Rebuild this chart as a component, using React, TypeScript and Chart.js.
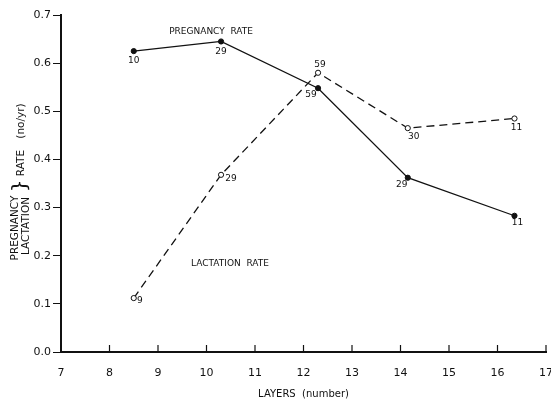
import React, { useEffect, useRef } from "react";
import { Chart, registerables } from "chart.js";

Chart.register(...registerables);

const layers = [8.5, 10.3, 12.3, 14.15, 16.35];
const pregnancyRate = [0.625, 0.645, 0.548, 0.362, 0.283];
const lactationRate = [0.112, 0.368, 0.58, 0.465, 0.485];
const pregnancyN = ["10", "29", "59", "29", "11"];
const lactationN = ["9", "29", "59", "30", "11"];
const xTicks = [7, 8, 9, 10, 11, 12, 13, 14, 15, 16, 17];
const yTicks = [0, 0.1, 0.2, 0.3, 0.4, 0.5, 0.6, 0.7];

const FONT = "DejaVu Sans, sans-serif";
const INK = "#111";

// label offsets (style only)
const pregOffsets = [[0, 10], [0, 10], [-7, 6], [-6, 7], [3, 7]];
const lactOffsets = [[6, 3], [10, 4], [2, -8], [6, 9], [2, 9]];

const annotPlugin = {
  id: "annot",
  afterDraw(chart: any) {
    const ctx = chart.ctx;
    const xs = chart.scales.x;
    const ys = chart.scales.y;
    ctx.save();
    ctx.fillStyle = INK;
    ctx.strokeStyle = INK;
    // inner x ticks
    ctx.lineWidth = 1.2;
    const yb = chart.chartArea.bottom;
    xs.ticks.forEach((t: any) => {
      const px = xs.getPixelForValue(t.value);
      ctx.beginPath();
      ctx.moveTo(px, yb);
      ctx.lineTo(px, yb - 7);
      ctx.stroke();
    });
    // data count labels
    ctx.font = `9px ${FONT}`;
    ctx.textAlign = "center";
    ctx.textBaseline = "middle";
    layers.forEach((lx, i) => {
      const px = xs.getPixelForValue(lx);
      const py = ys.getPixelForValue(pregnancyRate[i]);
      ctx.fillText(pregnancyN[i], px + pregOffsets[i][0], py + pregOffsets[i][1]);
      const ly = ys.getPixelForValue(lactationRate[i]);
      ctx.fillText(lactationN[i], px + lactOffsets[i][0], ly + lactOffsets[i][1]);
    });
    // series labels
    ctx.font = `9px ${FONT}`;
    ctx.textAlign = "left";
    ctx.fillText("PREGNANCY  RATE", xs.getPixelForValue(9.23), ys.getPixelForValue(0.665));
    ctx.fillText("LACTATION  RATE", xs.getPixelForValue(9.68), ys.getPixelForValue(0.184));
    // x title
    ctx.font = `10px ${FONT}`;
    ctx.textAlign = "center";
    ctx.fillText("LAYERS  (number)", (chart.chartArea.left + chart.chartArea.right) / 2, 394);
    // y title
    const drawRot = (txt: string, x: number, y: number) => {
      ctx.save();
      ctx.translate(x, y);
      ctx.rotate(-Math.PI / 2);
      ctx.fillText(txt, 0, 0);
      ctx.restore();
    };
    ctx.font = `10.5px ${FONT}`;
    drawRot("PREGNANCY", 15, 228);
    drawRot("LACTATION", 26, 226);
    ctx.font = `20px ${FONT}`;
    drawRot("}", 21, 186);
    ctx.font = `10.5px ${FONT}`;
    drawRot("RATE", 21, 163);
    drawRot("(no/yr)", 21, 121);
    ctx.restore();
  },
};

export default function App() {
  const ref = useRef<HTMLCanvasElement>(null);
  useEffect(() => {
    document.body.style.margin = "0";
    const chart = new Chart(ref.current!, {
      type: "line",
      data: {
        datasets: [
          {
            label: "Pregnancy rate",
            data: layers.map((x, i) => ({ x, y: pregnancyRate[i] })),
            borderColor: INK,
            borderWidth: 1.3,
            pointRadius: 2.6,
            pointBackgroundColor: INK,
            pointBorderColor: INK,
            pointBorderWidth: 1,
            tension: 0,
          },
          {
            label: "Lactation rate",
            data: layers.map((x, i) => ({ x, y: lactationRate[i] })),
            borderColor: INK,
            borderWidth: 1.3,
            borderDash: [8, 5],
            pointRadius: 2.6,
            pointBackgroundColor: "#fff",
            pointBorderColor: INK,
            pointBorderWidth: 1,
            tension: 0,
          },
        ],
      },
      options: {
        responsive: false,
        animation: false,
        layout: { padding: { left: 0, right: 5, top: 15, bottom: 0 } },
        plugins: { legend: { display: false }, tooltip: { enabled: false } },
        scales: {
          x: {
            type: "linear",
            min: 7,
            max: 17,
            afterBuildTicks: (s: any) => {
              s.ticks = xTicks.map((v) => ({ value: v }));
            },
            afterFit: (s: any) => {
              s.height = 49;
              s.paddingLeft = 0;
              s.paddingRight = 0;
            },
            grid: { display: false },
            border: { display: true, color: INK, width: 2 },
            ticks: {
              color: INK,
              font: { family: FONT, size: 11 },
              padding: 7,
              maxRotation: 0,
              callback: (v: any) => String(v),
            },
          },
          y: {
            type: "linear",
            min: 0,
            max: 0.7,
            afterBuildTicks: (s: any) => {
              s.ticks = yTicks.map((v) => ({ value: v }));
            },
            afterFit: (s: any) => {
              s.width = 61;
              s.paddingTop = 0;
              s.paddingBottom = 0;
            },
            grid: {
              display: true,
              drawOnChartArea: false,
              drawTicks: true,
              tickLength: 8,
              color: INK,
              lineWidth: 1,
            },
            border: { display: true, color: INK, width: 2 },
            ticks: {
              color: INK,
              font: { family: FONT, size: 11 },
              padding: 2,
              callback: (v: any) => Number(v).toFixed(1),
            },
          },
        },
      },
      plugins: [annotPlugin],
    });
    return () => chart.destroy();
  }, []);
  return (
    <div style={{ position: "fixed", left: 0, top: 0, width: 551, height: 401, background: "#fff" }}>
      <canvas ref={ref} width={551} height={401} />
    </div>
  );
}
